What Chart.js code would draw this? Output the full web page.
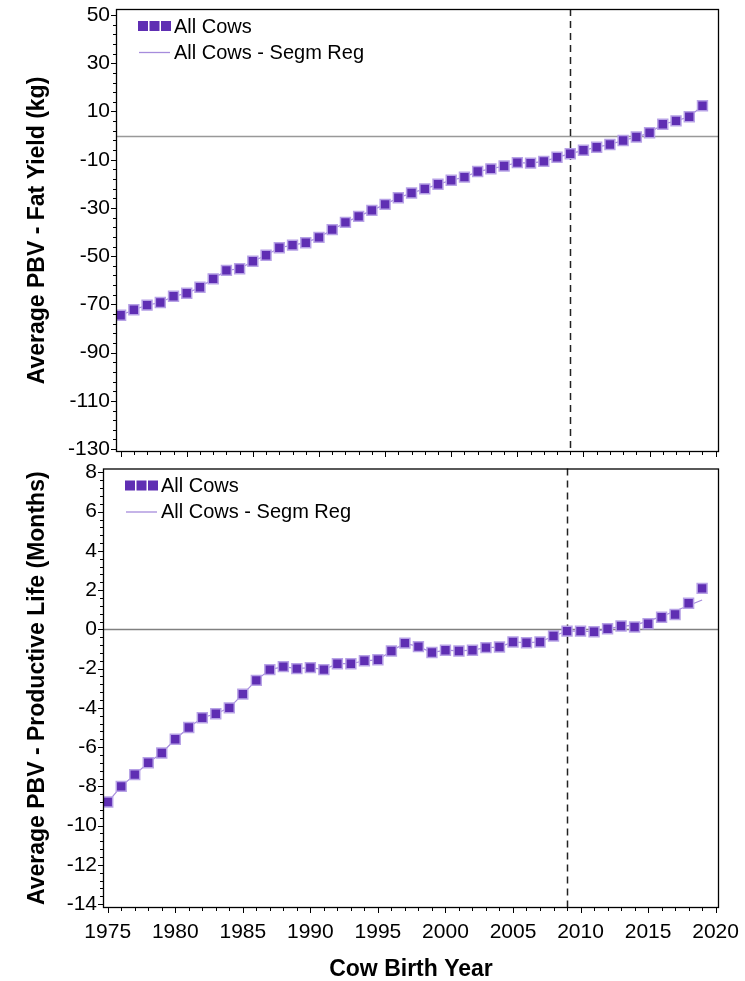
<!DOCTYPE html>
<html>
<head>
<meta charset="utf-8">
<script src="https://cdn.jsdelivr.net/npm/chart.js@4.4.1/dist/chart.umd.min.js"></script>
<style>
  body { margin: 0; background: #fff; }
  #wrap { position: relative; width: 745px; height: 981px; }
  canvas { position: absolute; left: 0; }
  #fatChart { top: 0; }
  #lifeChart { top: 460px; }
</style>
</head>
<body>
<div id="wrap">
  <canvas id="fatChart"></canvas>
  <canvas id="lifeChart"></canvas>
</div>
<script>
var years = [1975, 1976, 1977, 1978, 1979, 1980, 1981, 1982, 1983, 1984,
             1985, 1986, 1987, 1988, 1989, 1990, 1991, 1992, 1993, 1994,
             1995, 1996, 1997, 1998, 1999, 2000, 2001, 2002, 2003, 2004,
             2005, 2006, 2007, 2008, 2009, 2010, 2011, 2012, 2013, 2014,
             2015, 2016, 2017, 2018, 2019];

// Average PBV - Fat Yield (kg)
var fatYield = [-74.5, -72.2, -70.3, -69.2, -66.6, -65.4, -62.9, -59.4, -55.9, -55.2,
                -52.1, -49.6, -46.5, -45.4, -44.4, -42.2, -39.0, -36.0, -33.5, -31.0,
                -28.5, -25.8, -23.8, -22.1, -20.2, -18.5, -17.2, -14.9, -13.8, -12.6,
                -11.2, -11.4, -10.7, -9.0, -7.5, -6.1, -4.8, -3.7, -2.0, -0.6,
                1.2, 4.7, 6.1, 7.8, 12.4];
var fatSegReg = [-74.5, -72.2, -70.3, -69.2, -66.6, -65.4, -62.9, -59.4, -55.9, -55.2,
                 -52.1, -49.6, -46.5, -45.4, -44.4, -42.2, -39.0, -36.0, -33.5, -31.0,
                 -28.5, -25.8, -23.8, -22.1, -20.2, -18.5, -17.2, -14.9, -13.8, -12.6,
                 -11.2, -11.4, -10.7, -9.0, -7.5, -6.1, -4.8, -3.7, -2.0, -0.6,
                 1.2, 4.7, 6.1, 7.8, 12.4];

// Average PBV - Productive Life (Months)
var prodLife = [-8.8, -8.0, -7.4, -6.8, -6.3, -5.6, -5.0, -4.5, -4.3, -4.0,
                -3.3, -2.6, -2.05, -1.9, -2.0, -1.95, -2.05, -1.75, -1.75, -1.6,
                -1.55, -1.1, -0.7, -0.88, -1.18, -1.06, -1.1, -1.06, -0.93, -0.9,
                -0.64, -0.68, -0.64, -0.34, -0.09, -0.09, -0.12, 0.03, 0.17, 0.12,
                0.29, 0.62, 0.76, 1.33, 2.09];
var lifeSegReg = [-8.8, -8.0, -7.4, -6.8, -6.3, -5.6, -5.0, -4.5, -4.3, -4.0,
                  -3.3, -2.6, -2.05, -1.9, -2.0, -1.95, -2.05, -1.75, -1.75, -1.6,
                  -1.55, -1.1, -0.7, -0.88, -1.18, -1.06, -1.1, -1.06, -0.93, -0.9,
                  -0.64, -0.68, -0.64, -0.34, -0.09, -0.09, -0.12, 0.03, 0.15, 0.22,
                  0.42, 0.66, 0.94, 1.22, 1.5];

var yearTicks = [1975, 1980, 1985, 1990, 1995, 2000, 2005, 2010, 2015, 2020];
var fatTicks = [50, 30, 10, -10, -30, -50, -70, -90, -110, -130];
var lifeTicks = [8, 6, 4, 2, 0, -2, -4, -6, -8, -10, -12, -14];
var breakYear = 2009;

var seriesNames = ['All Cows', 'All Cows - Segm Reg'];
var markerColor = '#5f2eb3';
var markerEdge = '#b7a2e6';
var fitColor = '#a68cdc';
var fontFamily = "'Liberation Sans', Arial, sans-serif";

function toPoints(values) {
    return years.map(function (yr, i) { return { x: yr, y: values[i] }; });
}

// no extra room for edge labels, the plot box is placed by layout.padding
function noEdgePadding(scale) {
    scale.paddingTop = 0;
    scale.paddingBottom = 0;
    scale.paddingLeft = 0;
    scale.paddingRight = 0;
}

// draws minor/major tick marks, frame, reference lines and the inset legend
var panelDecor = {
    id: 'panelDecor',
    beforeDatasetsDraw: function (chart, args, o) {
        var ctx = chart.ctx, area = chart.chartArea;
        var xs = chart.scales.x, ys = chart.scales.y;
        ctx.save();
        var y0 = Math.round(ys.getPixelForValue(0)) + 0.5;
        ctx.strokeStyle = o.zeroColor;
        ctx.lineWidth = 1.5;
        ctx.beginPath();
        ctx.moveTo(area.left, y0);
        ctx.lineTo(area.right, y0);
        ctx.stroke();

        var xb = Math.round(xs.getPixelForValue(breakYear)) + 0.5;
        ctx.strokeStyle = '#222';
        ctx.lineWidth = 1.5;
        ctx.setLineDash([7, 5]);
        ctx.beginPath();
        ctx.moveTo(xb, area.top);
        ctx.lineTo(xb, area.bottom);
        ctx.stroke();
        ctx.restore();
    },
    afterDraw: function (chart, args, o) {
        var ctx = chart.ctx, area = chart.chartArea;
        var xs = chart.scales.x, ys = chart.scales.y;
        ctx.save();
        ctx.strokeStyle = '#000';
        ctx.lineWidth = 1;

        // y ticks
        var base = o.yBase, step = o.yMinor;
        var k0 = Math.ceil((ys.min - base) / step), k1 = Math.floor((ys.max - base) / step);
        for (var k = k0; k <= k1; k++) {
            var py = Math.round(ys.getPixelForValue(base + k * step)) + 0.5;
            var len = (k % 5 === 0) ? 5 : 3;
            ctx.beginPath();
            ctx.moveTo(area.left - len, py);
            ctx.lineTo(area.left, py);
            ctx.stroke();
        }
        // x ticks, one per year
        for (var yr = Math.ceil(xs.min); yr <= xs.max; yr++) {
            var px = Math.round(xs.getPixelForValue(yr)) + 0.5;
            var l = (yr % 5 === 0) ? 5 : 3;
            ctx.beginPath();
            ctx.moveTo(px, area.bottom);
            ctx.lineTo(px, area.bottom + l);
            ctx.stroke();
        }

        // frame
        ctx.lineWidth = 1.3;
        ctx.strokeRect(area.left + 0.5, area.top + 0.5, area.right - area.left - 1, area.bottom - area.top - 1);

        // legend
        var lx = area.left + 22, ly1 = area.top + 17, ly2 = area.top + 43;
        for (var s = 0; s < 3; s++) {
            ctx.fillStyle = markerColor;
            ctx.fillRect(lx + s * 11.5, ly1 - 5, 10, 10);
        }
        ctx.strokeStyle = fitColor;
        ctx.lineWidth = 1.3;
        ctx.beginPath();
        ctx.moveTo(lx + 1, ly2 + 0.5);
        ctx.lineTo(lx + 32, ly2 + 0.5);
        ctx.stroke();
        ctx.fillStyle = '#000';
        ctx.font = '20px ' + fontFamily;
        ctx.textBaseline = 'middle';
        ctx.fillText(seriesNames[0], lx + 36, ly1 + 1);
        ctx.fillText(seriesNames[1], lx + 36, ly2 + 1);
        ctx.restore();
    }
};

function panelConfig(values, fitValues, yTicks, yMin, yMax, yTitle, axisWidth, pad, xAxisHeight, showX, decor) {
    return {
        type: 'scatter',
        data: {
            datasets: [{
                label: seriesNames[0],
                data: toPoints(values),
                showLine: false,
                pointStyle: 'rect',
                pointRadius: 7,
                backgroundColor: markerColor,
                borderColor: markerEdge,
                borderWidth: 1.5
            }, {
                label: seriesNames[1],
                data: toPoints(fitValues),
                showLine: true,
                tension: 0,
                pointRadius: 0,
                borderColor: fitColor,
                borderWidth: 1.2
            }]
        },
        options: {
            responsive: false,
            animation: false,
            events: [],
            layout: { padding: pad },
            scales: {
                x: {
                    type: 'linear',
                    min: 1974.65,
                    max: 2020.25,
                    afterBuildTicks: function (scale) {
                        scale.ticks = yearTicks.map(function (v) { return { value: v }; });
                    },
                    afterFit: function (scale) {
                        scale.height = xAxisHeight;
                        noEdgePadding(scale);
                    },
                    grid: { display: true, drawOnChartArea: false, drawTicks: false },
                    border: { display: false },
                    ticks: {
                        display: showX,
                        autoSkip: false,
                        maxRotation: 0,
                        padding: 14,
                        color: '#000',
                        font: { family: fontFamily, size: 21, lineHeight: 1 },
                        callback: function (v) { return String(v); }
                    },
                    title: {
                        display: showX,
                        text: 'Cow Birth Year',
                        color: '#000',
                        padding: { top: 0, bottom: 0 },
                        font: { family: fontFamily, size: 23, weight: 'bold', lineHeight: 1 }
                    }
                },
                y: {
                    min: yMin,
                    max: yMax,
                    afterBuildTicks: function (scale) {
                        scale.ticks = yTicks.map(function (v) { return { value: v }; });
                    },
                    afterFit: function (scale) {
                        scale.width = axisWidth;
                        noEdgePadding(scale);
                    },
                    grid: { display: true, drawOnChartArea: false, drawTicks: false },
                    border: { display: false },
                    ticks: {
                        autoSkip: false,
                        padding: 6,
                        color: '#000',
                        font: { family: fontFamily, size: 21, lineHeight: 1 },
                        callback: function (v) { return String(v); }
                    },
                    title: {
                        display: true,
                        text: yTitle,
                        color: '#000',
                        padding: { top: 26, bottom: 0 },
                        font: { family: fontFamily, size: 23, weight: 'bold', lineHeight: 1 }
                    }
                }
            },
            plugins: {
                legend: { display: false },
                tooltip: { enabled: false },
                panelDecor: decor
            }
        },
        plugins: [panelDecor]
    };
}

var fatCanvas = document.getElementById('fatChart');
fatCanvas.width = 745;
fatCanvas.height = 470;
var fatChart = new Chart(fatCanvas, panelConfig(
    fatYield, fatSegReg, fatTicks, -131.2, 52.5,
    'Average PBV - Fat Yield (kg)', 116,
    { top: 9, right: 26, left: 0, bottom: 0 }, 18, false,
    { zeroColor: '#999', yBase: -130, yMinor: 4 }
));

var lifeCanvas = document.getElementById('lifeChart');
lifeCanvas.width = 745;
lifeCanvas.height = 521;
var lifeChart = new Chart(lifeCanvas, panelConfig(
    prodLife, lifeSegReg, lifeTicks, -14.2, 8.2,
    'Average PBV - Productive Life (Months)', 103,
    { top: 6, right: 26, left: 0, bottom: 0 }, 73, true,
    { zeroColor: '#808080', yBase: -14, yMinor: 0.4 }
));
</script>
</body>
</html>
